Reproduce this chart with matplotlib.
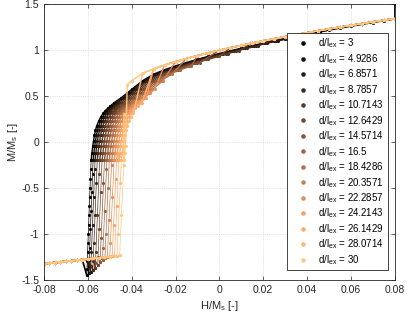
import numpy as np
import matplotlib.pyplot as plt
from matplotlib.lines import Line2D

plt.rcParams['font.family'] = ['Liberation Sans', 'DejaVu Sans']
plt.rcParams['mathtext.default'] = 'regular'

# d/l_ex of each curve
d_values = [3, 4.9286, 6.8571, 8.7857, 10.7143, 12.6429, 14.5714, 16.5,
            18.4286, 20.3571, 22.2857, 24.2143, 26.1429, 28.0714, 30]
d_labels = ['3', '4.9286', '6.8571', '8.7857', '10.7143', '12.6429', '14.5714', '16.5',
            '18.4286', '20.3571', '22.2857', '24.2143', '26.1429', '28.0714', '30']

# upper envelope (curves before their first avalanche)
H_top = [0.080, 0.075, 0.070, 0.065, 0.060, 0.055, 0.050, 0.045, 0.040, 0.035,
         0.030, 0.025, 0.020, 0.015, 0.010, 0.005, 0.000, -0.005, -0.010, -0.015,
         -0.020, -0.025, -0.030, -0.035, -0.040, -0.042]
M_top = [1.340, 1.322, 1.304, 1.285, 1.266, 1.247, 1.227, 1.207, 1.186, 1.165,
         1.143, 1.120, 1.097, 1.073, 1.048, 1.022, 0.995, 0.967, 0.937, 0.905,
         0.871, 0.834, 0.793, 0.745, 0.665, 0.620]

# d/l_ex = 3 branch down to the knee (other curves follow it shifted to the right)
H_black = [0.080, 0.080, 0.075, 0.070, 0.065, 0.060, 0.055, 0.050, 0.045, 0.040,
           0.035, 0.030, 0.025, 0.020, 0.015, 0.010, 0.005, 0.000, -0.005, -0.010,
           -0.015, -0.020, -0.025, -0.030, -0.035, -0.040, -0.042, -0.045, -0.048,
           -0.050, -0.051, -0.052, -0.053, -0.054, -0.055, -0.056, -0.0565, -0.057,
           -0.0574, -0.0578, -0.0581, -0.0585]
M_black = [1.500, 1.335, 1.316, 1.296, 1.276, 1.256, 1.235, 1.214, 1.192, 1.170,
           1.147, 1.123, 1.098, 1.072, 1.045, 1.017, 0.989, 0.960, 0.929, 0.897,
           0.862, 0.825, 0.783, 0.735, 0.665, 0.570, 0.530, 0.475, 0.425,
           0.385, 0.363, 0.340, 0.310, 0.275, 0.228, 0.170, 0.125, 0.070,
           0.010, -0.050, -0.120, -0.200]

# field where each curve leaves the upper envelope
H_drop = [0.080, 0.050, 0.035, 0.020, 0.010, 0.002, -0.005, -0.011, -0.017,
          -0.022, -0.027, -0.031, -0.035, -0.039, -0.0425]
# switching field and lowest magnetisation reached
H_switch = [-0.0605, -0.0596, -0.0587, -0.0577, -0.0566, -0.0555, -0.0544, -0.0533,
            -0.0522, -0.0511, -0.0500, -0.0489, -0.0478, -0.0467, -0.0455]
M_end = [-1.45, -1.43, -1.41, -1.39, -1.37, -1.34, -1.31, -1.28, -1.26, -1.255,
         -1.25, -1.245, -1.24, -1.24, -1.235]
# magnetisation of the recorded points during the switching jump
M_steps = [[-0.3, -0.4, -0.5, -0.6, -0.7, -0.8, -0.9, -1.0, -1.1, -1.2, -1.3, -1.38],
           [-0.35, -0.55, -0.75, -0.95, -1.15, -1.3],
           [-0.3, -0.6, -0.9, -1.2, -1.35],
           [-0.45, -0.8, -1.1, -1.3],
           [-0.35, -0.8, -1.2],
           [-0.55, -0.95, -1.25],
           [-0.45, -1.05],
           [-0.3, -0.75, -1.15],
           [-0.5, -1.0],
           [-0.25, -0.85],
           [-0.6, -1.1],
           [-0.4, -0.9],
           [-0.15, -0.7],
           [-0.45, -1.0],
           [0.3, -0.25, -0.8]]

# reversed branch after switching
H_low = [-0.045, -0.0475, -0.050, -0.0525, -0.055, -0.0575, -0.060, -0.0625,
         -0.065, -0.0675, -0.070, -0.0725, -0.075, -0.0775, -0.080]
M_low = [-1.235, -1.241, -1.248, -1.254, -1.261, -1.267, -1.274, -1.280,
         -1.287, -1.293, -1.299, -1.306, -1.312, -1.319, -1.325]

x_ticks = [-0.08, -0.06, -0.04, -0.02, 0, 0.02, 0.04, 0.06, 0.08]
x_ticklabels = ['-0.08', '-0.06', '-0.04', '-0.02', '0', '0.02', '0.04', '0.06', '0.08']
y_ticks = [-1.5, -1, -0.5, 0, 0.5, 1, 1.5]
y_ticklabels = ['-1.5', '-1', '-0.5', '0', '0.5', '1', '1.5']

H_top, M_top = np.array(H_top), np.array(M_top)
H_black, M_black = np.array(H_black), np.array(M_black)
H_low, M_low = np.array(H_low), np.array(M_low)

fig = plt.figure(figsize=(4.07, 3.18), dpi=100)
ax = fig.add_axes([0.108, 0.120, 0.862, 0.868])

colors = plt.cm.copper(np.linspace(0, 1, len(d_values)))
handles = []
for i, d in enumerate(d_values):
    c = colors[i]
    shift = H_switch[i] - H_switch[0]
    keep_top = H_top > H_drop[i]
    keep_b = H_black + shift <= H_drop[i]
    # smooth part before switching
    H_up = np.concatenate([H_top[keep_top], H_black[keep_b] + shift])
    M_up = np.concatenate([M_top[keep_top], M_black[keep_b]])
    ax.plot(H_up, M_up, '-', color=c, lw=1.0, marker='.', ms=2.5)

    # switching jump
    ms_pts = np.array(M_steps[i])
    H_sw = np.interp(ms_pts, [M_end[i], M_up[-1]], [H_switch[i], H_up[-1]])
    H_j = np.concatenate([[H_up[-1]], H_sw, [H_switch[i]]])
    M_j = np.concatenate([[M_up[-1]], ms_pts, [M_end[i]]])
    ax.plot(H_j, M_j, '-', color=c, lw=0.5, marker='.', ms=2.5)

    # reversed branch
    keep_low = H_low < H_switch[i]
    H_r = np.concatenate([[H_switch[i]], H_low[keep_low]])
    M_r = np.concatenate([[M_end[i]], M_low[keep_low]])
    ax.plot(H_r, M_r, '-', color=c, lw=1.2, marker='.', ms=2.5)

    handles.append(Line2D([], [], color=c, marker='.', ms=4.5, ls='none'))

labels = ['d/l$_{ex}$ = ' + s for s in d_labels]
leg = ax.legend(handles, labels, loc='lower right', bbox_to_anchor=(0.980, 0.035),
                fontsize=7, fancybox=False, framealpha=1, edgecolor='0.15',
                labelspacing=0.17, handlelength=2.7, handletextpad=0.2,
                borderpad=0.35, borderaxespad=0)
leg.get_frame().set_linewidth(0.6)

ax.set_xlim(-0.08, 0.08)
ax.set_ylim(-1.5, 1.5)
ax.set_xticks(x_ticks)
ax.set_xticklabels(x_ticklabels)
ax.set_yticks(y_ticks)
ax.set_yticklabels(y_ticklabels)
ax.tick_params(direction='in', top=True, right=True, length=3, width=0.5,
               labelsize=7.5, colors='0.15')
for s in ax.spines.values():
    s.set_linewidth(0.6)
    s.set_color('0.15')
ax.grid(True, linestyle=':', color='0.8', linewidth=0.5)
ax.set_axisbelow(True)
ax.set_xlabel('H/M$_s$ [-]', fontsize=8, color='0.15', labelpad=3)
ax.set_ylabel('M/M$_s$ [-]', fontsize=8, color='0.15', labelpad=1)

fig.savefig('out.png', dpi=100)
